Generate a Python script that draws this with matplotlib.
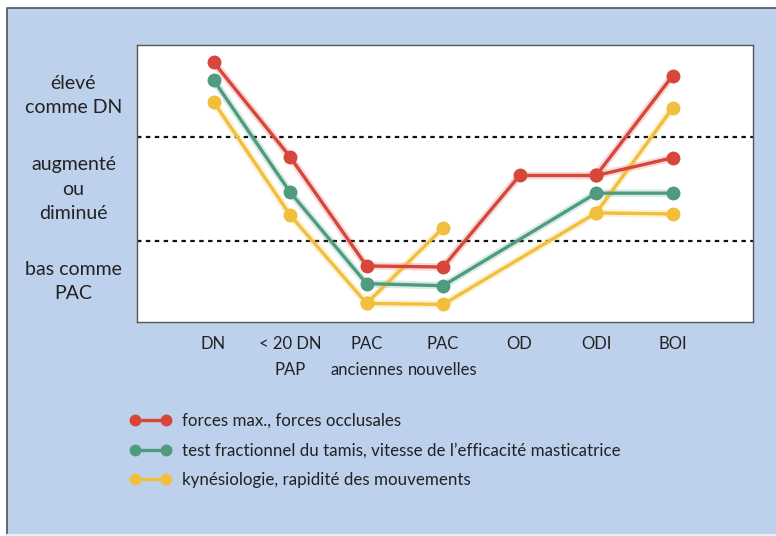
import numpy as np
import matplotlib
matplotlib.use("Agg")
import matplotlib.pyplot as plt
from matplotlib.lines import Line2D
from matplotlib.patches import Rectangle

plt.rcParams['font.family'] = ['Lato', 'DejaVu Sans']

# ---------- Data ----------
categories = ['DN', '< 20 DN\nPAP', 'PAC\nanciennes', 'PAC\nnouvelles', 'OD', 'ODI', 'BOI']
levels = ['élevé\ncomme DN', 'augmenté\nou\ndiminué', 'bas comme\nPAC']

# level scale: 1 and 2 are the dotted limits between the three zones
red_x = [0, 1, 2, 3, 4, 5, 6]
red_y = [2.72, 1.81, 0.76, 0.75, 1.63, 1.63, 1.80]
red_branch_x = [5, 6]
red_branch_y = [1.63, 2.59]

green_x = [0, 1, 2, 3, 5, 6]
green_y = [2.55, 1.47, 0.59, 0.57, 1.46, 1.46]

yellow_x = [0, 1, 2, 3, 5, 6]
yellow_y = [2.34, 1.25, 0.40, 0.39, 1.27, 1.26]
yellow_branch1_x = [2, 3]
yellow_branch1_y = [0.40, 1.125]
yellow_branch2_x = [5, 6]
yellow_branch2_y = [1.27, 2.28]

series_names = ['forces max., forces occlusales',
                'test fractionnel du tamis, vitesse de l\u2019efficacité masticatrice',
                'kynésiologie, rapidité des mouvements']

RED = '#d6463a'
GREEN = '#4f9b80'
YELLOW = '#f1bf3b'
BG = '#bdd0ec'
TXT = '#222222'

# ---------- Figure ----------
fig = plt.figure(figsize=(7.76, 5.36), dpi=100)
fig.patch.set_facecolor('white')
fig.patches.append(Rectangle((7 / 776, 0), 1.0, (536 - 8) / 536,
                             transform=fig.transFigure, facecolor=BG,
                             edgecolor='none', zorder=-10))
# dark frame on the top and left of the panel
fig.lines.append(Line2D([7 / 776, 7 / 776, 1], [2 / 536, 528 / 536, 528 / 536],
                        transform=fig.transFigure, color='#4a5560', lw=1.2))
fig.lines.append(Line2D([7 / 776, 1], [1.5 / 536, 1.5 / 536],
                        transform=fig.transFigure, color='#e8eef8', lw=1.5))

ax = fig.add_axes([137 / 776, (536 - 322) / 536, 616 / 776, 277 / 536])
ax.set_facecolor('white')
ax.set_xlim(-1.0, 7.05)
ax.set_ylim(0.221, 2.885)
for s in ax.spines.values():
    s.set_color('#555555')
    s.set_linewidth(1.0)

ax.axhline(1, color='#111111', lw=1.6, ls=(0, (2, 2)))
ax.axhline(2, color='#111111', lw=1.6, ls=(0, (2, 2)))


def draw(x, y, color):
    # soft halo underneath, then the line with its dots
    ax.plot(x, y, color=color, lw=5.5, alpha=0.2, solid_capstyle='round', zorder=2)
    ax.plot(x, y, color=color, lw=2.4, marker='o', ms=9, mec=color, zorder=3)


draw(yellow_x, yellow_y, YELLOW)
draw(yellow_branch1_x, yellow_branch1_y, YELLOW)
draw(yellow_branch2_x, yellow_branch2_y, YELLOW)
draw(green_x, green_y, GREEN)
draw(red_x, red_y, RED)
draw(red_branch_x, red_branch_y, RED)

ax.set_xticks(range(len(categories)))
ax.set_xticklabels(categories, fontsize=12, color=TXT, linespacing=1.8)
ax.tick_params(axis='x', length=0, pad=10)
ax.set_yticks([])

# zone labels on the left
zone_centers = [2.40, 1.5, 0.61]
for lab, yc in zip(levels, zone_centers):
    ax.text(-1.83, yc, lab, ha='center', va='center', fontsize=14,
            color=TXT, linespacing=1.55)

handles = [Line2D([0], [0], color=c, lw=2.4, marker='o', ms=7.5, mec=c)
           for c in (RED, GREEN, YELLOW)]
fig.legend(handles, series_names, loc='upper left',
           bbox_to_anchor=(130 / 776, (536 - 413) / 536),
           frameon=False, fontsize=12.2, numpoints=2, handlelength=2.4,
           handletextpad=0.65, labelspacing=0.8, borderpad=0,
           borderaxespad=0, labelcolor=TXT)

fig.savefig('out.png', dpi=100)
